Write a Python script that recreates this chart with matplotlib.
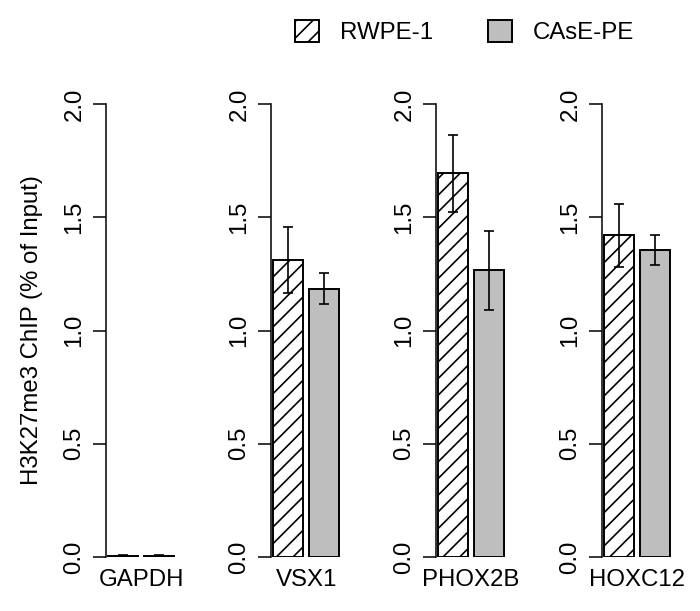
import matplotlib
matplotlib.use('Agg')
import matplotlib.pyplot as plt
import numpy as np

# H3K27me3 ChIP, % of input
genes = ['GAPDH', 'VSX1', 'PHOX2B', 'HOXC12']
rwpe = [0.006, 1.31, 1.695, 1.42]
rwpe_err = [0.003, 0.145, 0.17, 0.14]
case = [0.006, 1.185, 1.265, 1.355]
case_err = [0.003, 0.068, 0.175, 0.065]
yticks = [0.0, 0.5, 1.0, 1.5, 2.0]
series = ['RWPE-1', 'CAsE-PE']

plt.rcParams['font.family'] = ['Liberation Sans', 'DejaVu Sans']
plt.rcParams['hatch.linewidth'] = 1.2
fs = 17.3
gray = '#bebebe'

W, H = 700, 611
fig = plt.figure(figsize=(W / 100, H / 100), dpi=100)

axis_px = [106, 271, 436, 602]
bottom_px, top_px = 557, 104
lefts = np.array([0.07, 1.27])

for i, g in enumerate(genes):
    ax = fig.add_axes([axis_px[i] / W, (H - bottom_px) / H, 75 / W, (bottom_px - top_px) / H])
    ax.bar(lefts[0], rwpe[i], width=1.0, align='edge', color='white',
           edgecolor='black', hatch='//', linewidth=1.4, label=series[0])
    ax.bar(lefts[1], case[i], width=1.0, align='edge', color=gray,
           edgecolor='black', linewidth=1.4, label=series[1])
    ax.errorbar(lefts + 0.5, [rwpe[i], case[i]], yerr=[rwpe_err[i], case_err[i]],
                fmt='none', ecolor='black', elinewidth=1.2, capsize=3.5,
                capthick=1.2, clip_on=False)
    ax.set_xlim(0, 2.5)
    ax.set_ylim(0, 2)
    for s in ['top', 'right', 'bottom']:
        ax.spines[s].set_visible(False)
    ax.spines['left'].set_linewidth(1.1)
    ax.spines['left'].set_bounds(0, 2)
    ax.set_yticks(yticks)
    ax.set_yticklabels(['%.1f' % t for t in yticks], rotation=90, va='center',
                       fontsize=fs)
    ax.tick_params(axis='y', length=9.4, width=1.1, pad=5.4)
    ax.set_xticks([1.17])
    ax.set_xticklabels([g], fontsize=fs)
    ax.tick_params(axis='x', length=0, pad=9)
    if i == 0:
        ax.set_ylabel('H3K27me3 ChIP (% of Input)', fontsize=fs, labelpad=15)
        handles, labels = ax.get_legend_handles_labels()

fig.legend(handles, labels, loc='center', bbox_to_anchor=(464.5 / W, 1 - 32 / H),
           ncol=2, frameon=False, fontsize=fs, handlelength=1.0, handleheight=1.0,
           handletextpad=0.875, columnspacing=2.3, borderpad=0)

fig.savefig('out.png', dpi=100)
